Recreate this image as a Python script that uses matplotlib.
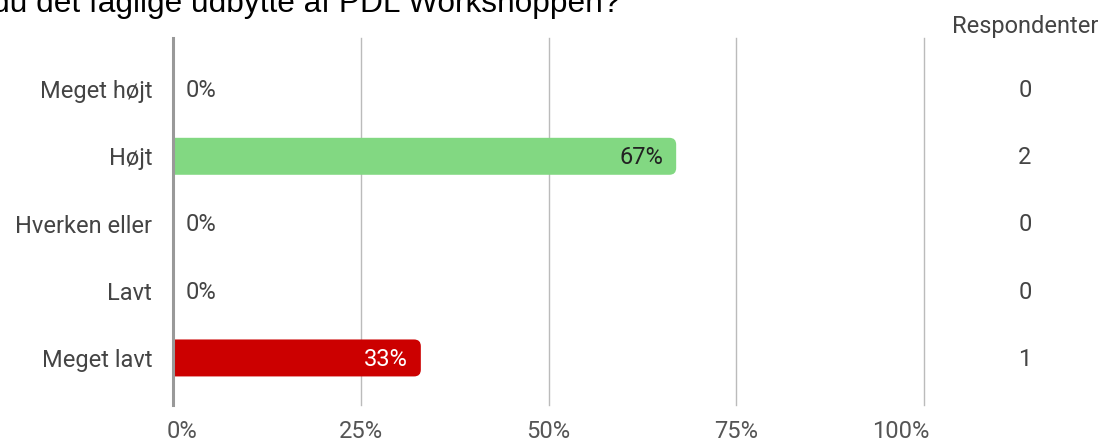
import matplotlib
matplotlib.use("Agg")
import matplotlib.pyplot as plt
from matplotlib.patches import FancyBboxPatch
import matplotlib.transforms as mtransforms

categories = ["Meget højt", "Højt", "Hverken eller", "Lavt", "Meget lavt"]
percents = [0, 67, 0, 0, 33]
counts = [0, 2, 0, 0, 1]
bar_colors = ["#82d882", "#82d882", "#82d882", "#82d882", "#cc0000"]
label_colors = ["#333333", "#222222", "#333333", "#333333", "#ffffff"]
xticks = [0, 25, 50, 75, 100]
xticklabels = ["0%", "25%", "50%", "75%", "100%"]
title = "Hvordan vurderer du det faglige udbytte af PDL Workshoppen?"
count_header = "Respondenter"

FS = 17
W, H = 1104, 442
fig = plt.figure(figsize=(W / 100, H / 100), dpi=100)
ax = fig.add_axes([173 / W, 37 / H, 751 / W, 367 / H])

ax.set_xlim(0, 100)
ax.set_ylim(4.70, -0.76)

for s in ax.spines.values():
    s.set_visible(False)

ax.set_xticks(xticks)
ax.set_xticklabels(xticklabels, fontfamily="Roboto", fontsize=FS, color="#555555")
ax.tick_params(axis="x", length=0, pad=11)
ticklabs = ax.get_xticklabels()
ticklabs[0].set_ha("left")
ticklabs[0].set_transform(ticklabs[0].get_transform() +
                          mtransforms.ScaledTranslation(-6 / 100, 0, fig.dpi_scale_trans))
ticklabs[-1].set_ha("right")
ticklabs[-1].set_transform(ticklabs[-1].get_transform() +
                           mtransforms.ScaledTranslation(5 / 100, 0, fig.dpi_scale_trans))
ax.set_yticks(range(len(categories)))
ax.set_yticklabels(categories, fontfamily="Roboto", fontsize=FS, color="#444444")
ax.tick_params(axis="y", length=0, pad=15)

for x in xticks[1:]:
    ax.axvline(x, color="#bbbbbb", linewidth=1.0, zorder=0, clip_on=False)
ax.axvline(0, color="#999999", linewidth=2.2, zorder=4, clip_on=False)

bar_h = 0.55
px_per_x = 751 / 100.0
px_per_y = 367 / (4.70 + 0.76)
aspect = px_per_x / px_per_y
for i, (p, c) in enumerate(zip(percents, bar_colors)):
    if p > 0:
        patch = FancyBboxPatch((-3, i - bar_h / 2), p + 3, bar_h,
                               boxstyle="round,pad=0,rounding_size=0.9",
                               mutation_aspect=aspect,
                               facecolor=c, edgecolor="none", zorder=2,
                               clip_on=True)
        ax.add_patch(patch)
        ax.text(p - 1.7, i + 0.02, f"{p}%", ha="right", va="center",
                fontfamily="Roboto", fontsize=FS, color=label_colors[i], zorder=5)
    else:
        ax.text(1.7, i + 0.02, f"{p}%", ha="left", va="center",
                fontfamily="Roboto", fontsize=FS, color="#444444", zorder=5)

trans = mtransforms.blended_transform_factory(ax.transAxes, ax.transData)
for i, n in enumerate(counts):
    ax.text((1025 - 173) / 751, i + 0.02, str(n), transform=trans,
            ha="center", va="center", fontfamily="Roboto", fontsize=FS,
            color="#444444")

fig.text(1025 / W, 1 - 27 / H, count_header, ha="center", va="center",
         fontfamily="Roboto", fontsize=FS, color="#444444")

fig.text(620 / W, 1 - 12 / H, title, ha="right", va="baseline",
         fontfamily="Liberation Sans", fontsize=22.8, color="#000000")

fig.savefig("out.png", dpi=100)
